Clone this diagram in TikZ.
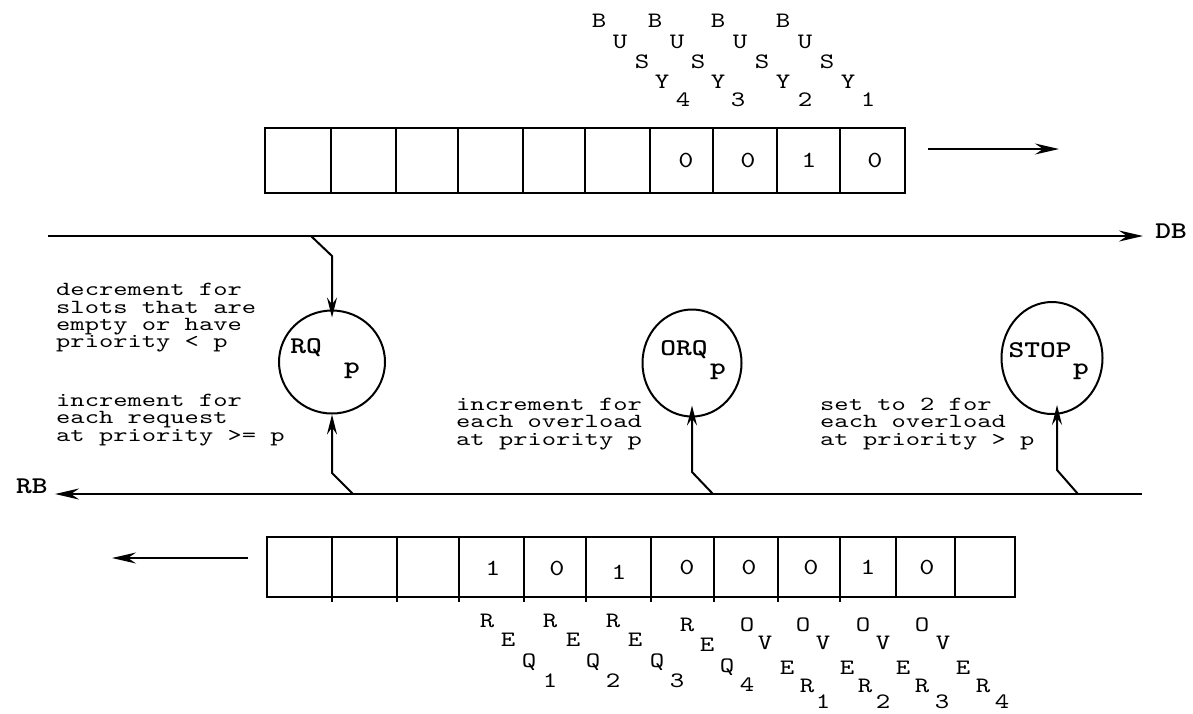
\documentclass[tikz,border=0pt]{standalone}
\usepackage{fontspec}
\newfontfamily\cour{lmmono10-regular}[Extension=.otf, BoldFont=lmmonolt10-bold, FakeStretch=1.25]
\newfontfamily\courw{lmmono10-regular}[Extension=.otf, FakeStretch=1.36]
\usetikzlibrary{arrows.meta,shapes.geometric}
\begin{document}
\begin{tikzpicture}[x=1pt,y=-1pt,
  bus/.style={line width=2.6pt},
  reg/.style={line width=2pt},
  link/.style={line width=2pt, -{Stealth[length=20pt,width=10pt,inset=7pt]}},
  bigtip/.style={-{Stealth[length=24pt,width=11pt,inset=8pt]}},
  txt/.style={font=\courw\fontsize{20pt}{17.3pt}\selectfont, inner sep=0pt, align=left},
  let/.style={font=\cour\fontsize{22pt}{22pt}\selectfont, inner sep=0pt},
  dig/.style={font=\cour\fontsize{23pt}{23pt}\selectfont, inner sep=0pt},
  bld/.style={font=\cour\bfseries\fontsize{24pt}{24pt}\selectfont, inner sep=0pt},
  cnt/.style={ellipse, draw, line width=2pt, inner sep=0pt},
]
\useasboundingbox (0,0) rectangle (1193,713);

% top register
\foreach \a/\b in {265/331,331/396,396/458,458/523,523/585,585/650,650/713,713/777,777/840,840/905}
  \draw[reg] (\a,128) rectangle (\b,193);
\foreach \x/\c [count=\i] in {686/0,748/0,809/1,875/0}
  \node[dig] (td\i) at (\x,160) {\c};

% BUSY labels
\foreach \x/\y/\c [count=\i] in {
  599/21/B,620/42/U,642/62/S,662/82/Y,683/100/4,
  655/21/B,677/42/U,698/62/S,718/82/Y,738/100/3,
  718/21/B,740/42/U,762/62/S,783/82/Y,805/100/2,
  783/21/B,805/42/U,827/62/S,848/82/Y,868/100/1}
  \node[let] (bu\i) at (\x,\y) {\c};

% top output arrow
\coordinate (topS) at (928,149);
\coordinate (topE) at (1059,149);
\draw[reg,bigtip] (topS) -- (topE);

% DB bus
\coordinate (dbS) at (48,236);
\coordinate (dbE) at (1143,236);
\draw[bus,bigtip] (dbS) -- (dbE);
\node[bld] (DB) at (1171,231) {DB};

% RB bus
\coordinate (rbS) at (1142,494);
\coordinate (rbE) at (55,494);
\draw[bus,bigtip] (rbS) -- (rbE);
\node[bld] (RB) at (32,486) {RB};

% counters
\node[cnt, minimum width=106pt, minimum height=103pt] (RQ) at (332,362) {};
\node[cnt, minimum width=99pt, minimum height=107pt] (ORQ) at (692,363) {};
\node[cnt, minimum width=101pt, minimum height=112pt] (STOP) at (1052,358) {};
\node[bld] (RQl) at (306,348) {RQ};
\node[bld] (RQs) at (352,371) {p};
\node[bld] (ORQl) at (684,350) {ORQ};
\node[bld] (ORQs) at (718,372) {p};
\node[bld] (STOPl) at (1040,350) {STOP};
\node[bld] (STOPs) at (1081,372) {p};

% connectors
\coordinate (dbT) at (311,236);
\coordinate (rqK1) at (332,256);
\draw[link, shorten >=-8pt] (dbT) -- (rqK1) -- (RQ.north);
\coordinate (rbT1) at (353,494);
\coordinate (rqK2) at (332,473);
\draw[link] (rbT1) -- (rqK2) -- (RQ.south);
\coordinate (rbT2) at (713,494);
\coordinate (orK) at (692,472);
\draw[link, shorten >=-12pt] (rbT2) -- (orK) -- (ORQ.south);
\coordinate (rbT3) at (1078,494);
\coordinate (stK) at (1057,470);
\draw[link, shorten >=-10pt] (rbT3) -- (stK) -- (stK |- STOP.south);

% texts
\node[txt, anchor=west] (t1) at (56,318) {decrement for\\slots that are\\empty or have\\priority < p};
\node[txt, anchor=west] (t2) at (56,420) {increment for\\each request\\at priority >= p};
\node[txt, anchor=west] (t3) at (456,424) {increment for\\each overload\\at priority p};
\node[txt, anchor=west] (t4) at (820,424) {set to 2 for\\each overload\\at priority > p};

% bottom register
\foreach \a/\b in {267/332,332/397,397/459,459/524,524/586,586/651,651/714,714/778,778/840,840/896,896/955,955/1015}
  \draw[reg] (\a,537) rectangle (\b,597);
\foreach \a in {332,397,459,524,586,651,714,778,840}
  \draw[reg] (\a,597) -- (\a,602);
\foreach \x/\y/\c [count=\i] in {493/568/1,557/568/0,619/572/1,687/567/0,749/567/0,811/567/0,868/567/1,927/567/0}
  \node[dig] (bd\i) at (\x,\y) {\c};

% bottom output arrow
\coordinate (blS) at (248,558);
\coordinate (blE) at (112,558);
\draw[reg,bigtip] (blS) -- (blE);

% REQ / OVER labels
\foreach \x/\y/\c [count=\i] in {
  487/621/R,508/640/E,529/662/Q,550/681/1,
  550/621/R,573/640/E,593/662/Q,613/681/2,
  613/621/R,635/640/E,657/662/Q,677/681/3,
  687/625/R,707/645/E,727/667/Q,747/685/4,
  747/625/O,765/643/V,787/668/E,807/686/R,823/702/1,
  803/625/O,823/643/V,847/668/E,865/686/R,883/702/2,
  863/625/O,883/643/V,903/668/E,922/686/R,942/702/3,
  922/625/O,943/643/V,963/668/E,983/686/R,1002/702/4}
  \node[let] (rq\i) at (\x,\y) {\c};
\end{tikzpicture}
\end{document}
